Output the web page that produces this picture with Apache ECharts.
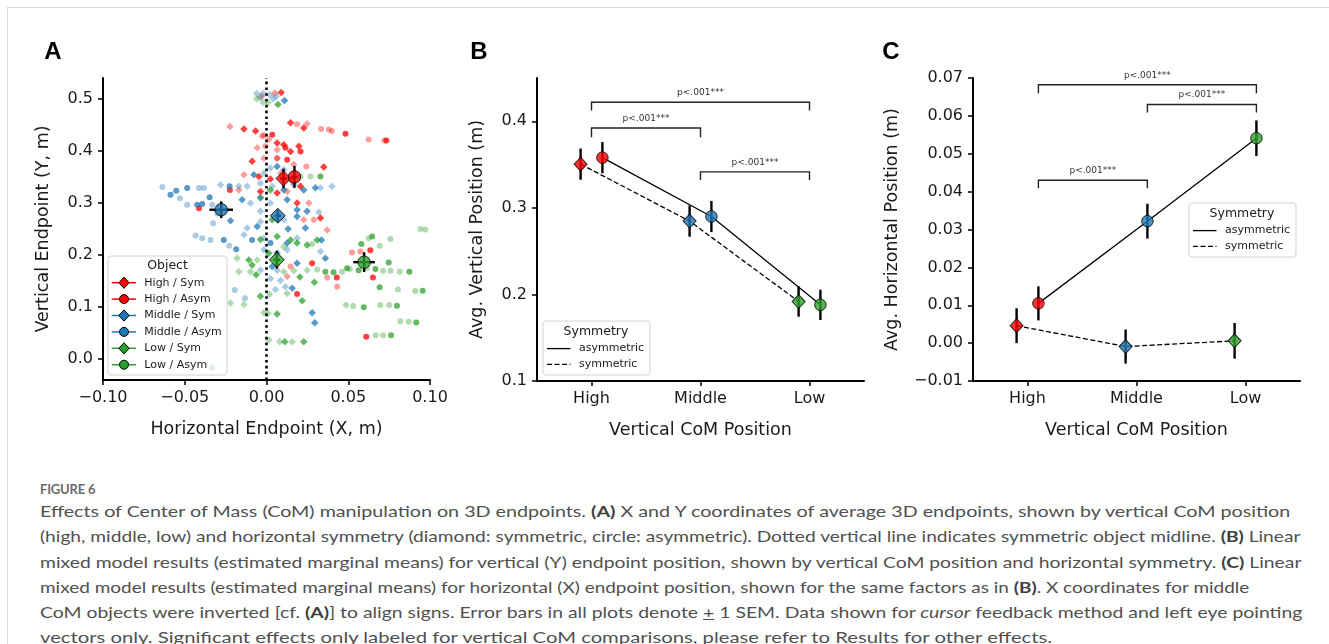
<!DOCTYPE html>
<html>
<head>
<meta charset="utf-8">
<script src="https://cdn.jsdelivr.net/npm/echarts@6/dist/echarts.min.js"></script>
<style>
  body { margin: 0; background: #fff; }
  #frame { position: absolute; left: 7px; top: 7px; right: 0; bottom: 0; border-left: 1px solid #d8d8d8; border-top: 1px solid #d8d8d8; }
  #chart { position: absolute; left: 0; top: 0; width: 1329px; height: 460px; }
  #caption { position: absolute; left: 40px; top: 0; font-family: Lato, 'Noto Sans', sans-serif; color: #505050; }
  #caption .fig { position: absolute; top: 481px; font-size: 13px; font-weight: 700; color: #6a6a6a; white-space: nowrap; letter-spacing: -0.2px; }
  #caption .ln { position: absolute; font-size: 16px; line-height: 20px; white-space: nowrap; transform-origin: 0 50%; }
  #caption b { color: #404040; }
</style>
</head>
<body>
<div id="frame"></div>
<div id="chart"></div>
<div id="caption">
  <div class="fig">FIGURE 6</div>
  <div class="ln" data-w="1250">Effects of Center of Mass (CoM) manipulation on 3D endpoints. <b>(A)</b> X and Y coordinates of average 3D endpoints, shown by vertical CoM position</div>
  <div class="ln" data-w="1261">(high, middle, low) and horizontal symmetry (diamond: symmetric, circle: asymmetric). Dotted vertical line indicates symmetric object midline. <b>(B)</b> Linear</div>
  <div class="ln" data-w="1261">mixed model results (estimated marginal means) for vertical (Y) endpoint position, shown by vertical CoM position and horizontal symmetry. <b>(C)</b> Linear</div>
  <div class="ln" data-w="1209">mixed model results (estimated marginal means) for horizontal (X) endpoint position, shown for the same factors as in <b>(B)</b>. X coordinates for middle</div>
  <div class="ln" data-w="1262">CoM objects were inverted [cf. <b>(A)</b>] to align signs. Error bars in all plots denote <span style="text-decoration:underline">+</span> 1 SEM. Data shown for <i>cursor</i> feedback method and left eye pointing</div>
  <div class="ln" data-w="1012">vectors only. Significant effects only labeled for vertical CoM comparisons, please refer to Results for other effects.</div>
</div>
<script>
// ---------- data ----------
const categories = ['High', 'Middle', 'Low'];
const groupNames = ['High / Sym', 'High / Asym', 'Middle / Sym', 'Middle / Asym', 'Low / Sym', 'Low / Asym'];

// panel A: single endpoints [x, y] (two shades per object)
const highSymDark = [[-0.0138,0.442],[-0.0067,0.438],[0.0065,0.415],[0.0106,0.412],[0.0147,0.454],[0.0228,0.444],[0.0147,0.399],[0.0198,0.409],[-0.0088,0.380],[0.035,0.369],[-0.0047,0.351],[0.0065,0.319],[0.0187,0.30],[0.033,0.271],[0.0024,0.346],[-0.0037,0.322],[0.0208,0.332],[0.009,0.512]];
const highSymLight = [[-0.0224,0.447],[-0.0026,0.428],[0.0014,0.422],[0.0248,0.452],[-0.0057,0.406],[0.0065,0.402],[0.0065,0.386],[-0.0016,0.386],[0.0167,0.374],[-0.0138,0.354],[0.0086,0.357],[0.0157,0.341],[0.0126,0.322],[0.0259,0.30],[0.0228,0.268],[0.0371,0.248],[-0.0169,0.325],[0.0126,0.159],[0.0065,0.181],[0.005,0.511],[-0.003,0.505]];
const highAsymDark = [[0.0035,0.431],[0.0116,0.406],[0.0208,0.399],[0.0126,0.383],[0.0483,0.433],[0.0733,0.42],[-0.0413,0.290],[0.0635,0.209],[0.0651,0.157],[0.043,0.157],[0.0279,0.184],[0.0187,0.125],[0.061,0.043],[-0.0224,0.325]];
const highAsymLight = [[0.0187,0.451],[0.0334,0.442],[0.0381,0.441],[0.040,0.438],[0.0625,0.422],[0.0721,0.420],[-0.0006,0.409],[0.0065,0.386],[0.0244,0.370],[0.029,0.268],[0.0523,0.205],[0.0574,0.207],[0.0371,0.157],[0.0432,0.139],[0.0147,0.178],[-0.0016,0.43]];
const midSymDark = [[-0.0149,0.306],[-0.0077,0.354],[0.0065,0.370],[0.0106,0.325],[0.0228,0.325],[0.0299,0.329],[-0.0037,0.31],[0.0126,0.306],[0.0187,0.287],[0.0248,0.284],[0.0187,0.274],[-0.0057,0.255],[0.0132,0.250],[0.0238,0.252],[0.0126,0.223],[0.0336,0.229],[0.0065,0.2035],[0.0187,0.184],[0.036,0.194],[0.0035,0.178],[0.0157,0.136],[0.0279,0.089],[0.0295,0.070],[-0.022,0.266],[0.011,0.497]];
const midSymLight = [[0.0024,0.367],[0.0106,0.364],[-0.0016,0.357],[0.0035,0.332],[0.0167,0.335],[0.033,0.329],[0.040,0.332],[0.0024,0.30],[0.032,0.282],[-0.0037,0.284],[-0.0037,0.264],[0.0106,0.268],[-0.0118,0.252],[-0.0138,0.239],[-0.0016,0.232],[0.0187,0.232],[0.033,0.2067],[-0.0016,0.21],[0.0126,0.21],[-0.0037,0.171],[0.0065,0.171],[0.0024,0.155],[0.0086,0.151],[0.0116,0.139],[0.0055,0.134],[-0.0281,0.335],[-0.0118,0.332],[-0.0098,0.2997],[-0.0169,0.332],[-0.006,0.51],[-0.002,0.51],[0.002,0.508],[0.006,0.505],[-0.004,0.502],[0.004,0.50]];
const midAsymDark = [[-0.0587,0.316],[-0.0552,0.3235],[-0.0485,0.3286],[-0.0348,0.311],[-0.0424,0.2965],[-0.0393,0.298],[-0.0226,0.332],[-0.0261,0.229],[-0.0185,0.211],[-0.0332,-0.016],[-0.0088,0.229],[0.0024,0.223]];
const midAsymLight = [[-0.0637,0.3306],[-0.053,0.309],[-0.0413,0.3286],[-0.0383,0.3286],[-0.0485,0.2965],[-0.0332,0.2965],[-0.0326,0.261],[-0.0301,0.280],[-0.0434,0.2375],[-0.0393,0.232],[-0.0342,0.229],[-0.0228,0.2176],[-0.0194,0.133],[-0.0132,0.117],[-0.0037,0.338]];
const lowSymDark = [[0.0024,0.325],[0.0035,0.268],[-0.0037,0.230],[0.0065,0.2355],[0.0147,0.229],[0.0187,0.223],[0.0248,0.2195],[0.031,0.229],[0.0014,0.2035],[-0.0108,0.1906],[-0.0088,0.181],[-0.0063,0.162],[0.0204,0.158],[0.0293,0.1476],[-0.0037,0.121],[0.0218,0.112],[0.0065,0.0867],[0.0112,0.0334],[0.0228,0.0334],[0.007,0.489]];
const lowSymLight = [[-0.0037,0.310],[0.0106,0.216],[-0.018,0.194],[-0.0057,0.1906],[-0.0169,0.168],[-0.0098,0.168],[0.0106,0.168],[0.0167,0.170],[0.0248,0.171],[0.0018,0.1245],[0.0126,0.126],[-0.022,0.108],[-0.0138,0.105],[-0.0016,0.089],[0.001,0.088],[0.0014,0.0366],[0.0081,0.0334],[0.0157,0.0334],[-0.006,0.50],[-0.002,0.493],[0.001,0.493]];
const lowAsymDark = [[0.033,0.351],[0.036,0.168],[0.041,0.167],[0.0493,0.1746],[0.0564,0.171],[0.0666,0.173],[0.0874,0.168],[0.058,0.221],[0.0646,0.2356],[0.0747,0.1855],[0.0692,0.138],[0.0955,0.1316],[0.0595,0.0995],[0.0798,0.1027],[0.0916,0.0706],[0.0762,0.046]];
const lowAsymLight = [[0.0269,0.351],[0.0208,0.351],[0.031,0.172],[0.0462,0.168],[0.0509,0.173],[0.0615,0.175],[0.0713,0.170],[0.0758,0.170],[0.0815,0.168],[0.0279,0.221],[0.0625,0.2323],[0.0692,0.2176],[0.0758,0.231],[0.0941,0.250],[0.0971,0.249],[0.0804,0.134],[0.091,0.131],[0.0487,0.104],[0.053,0.102],[0.0696,0.104],[0.0751,0.104],[0.0819,0.073],[0.087,0.072],[0.0668,0.046],[0.0713,0.046]];

// panel A: object means and SEM
const meanX = [0.0104, 0.0171, 0.0069, -0.0277, 0.0063, 0.0597];
const meanY = [0.347, 0.350, 0.2755, 0.287, 0.1908, 0.1863];
const semX = [0.002, 0.002, 0.002, 0.0072, 0.002, 0.0066];
const semY = [0.019, 0.021, 0.012, 0.016, 0.017, 0.019];
const aXTicks = [-0.1, -0.05, 0, 0.05, 0.1];
const aYTicks = [0, 0.1, 0.2, 0.3, 0.4, 0.5];

// panel B: vertical position (m)
const vertSym = [0.3505, 0.2847, 0.1918];
const vertSymSem = [0.018, 0.018, 0.0175];
const vertAsym = [0.358, 0.290, 0.188];
const vertAsymSem = [0.018, 0.018, 0.0175];
const bYTicks = [0.1, 0.2, 0.3, 0.4];
// brackets: [from, to, top, leg end]
const bracketsB = [[0, 2, 0.422, 0.4124], [0, 1, 0.3923, 0.3815], [1, 2, 0.3416, 0.3323]];

// panel C: horizontal position (m)
const horzSym = [0.0046, -0.0009, 0.0006];
const horzSymSem = [0.0046, 0.0045, 0.0047];
const horzAsym = [0.0105, 0.0322, 0.0541];
const horzAsymSem = [0.0045, 0.0046, 0.0047];
const cYTicks = [-0.01, 0, 0.01, 0.02, 0.03, 0.04, 0.05, 0.06, 0.07];
const bracketsC = [[0.1, 2.1, 0.0682, 0.0660], [1.1, 2.1, 0.0630, 0.0609], [0.1, 1.1, 0.0430, 0.0409]];
const bracketLabel = 'p<.001***';

// ---------- styling ----------
const RED = '#ff0000', BLUE = '#1f77b4', GREEN = '#2ca02c';
const groupColors = [RED, RED, BLUE, BLUE, GREEN, GREEN];
const groupSymbols = ['diamond', 'circle', 'diamond', 'circle', 'diamond', 'circle'];
const DODGE = 0.1;
const FONT = 'DejaVu Sans';
const TXT = '#1a1a1a';

const fmt = d => v => (v < -1e-9 ? '\u2212' : '') + Math.abs(v).toFixed(d);

function valueAxis(idx, min, max, ticks, digits, name, gap, margin) {
  return {
    type: 'value', gridIndex: idx, min: min, max: max,
    name: name, nameLocation: 'middle', nameGap: gap,
    nameTextStyle: { color: TXT, fontSize: 17.5, fontFamily: FONT },
    axisLine: { show: true, onZero: false, lineStyle: { color: '#000', width: 2 } },
    axisTick: { show: true, length: 5, customValues: ticks, lineStyle: { color: '#000', width: 1.5 } },
    axisLabel: { color: TXT, fontSize: 16, fontFamily: FONT, margin: margin, customValues: ticks, formatter: fmt(digits) },
    splitLine: { show: false }
  };
}
function catAxis(idx) {
  const a = valueAxis(idx, -0.5, 2.5, [0, 1, 2], 0, 'Vertical CoM Position', 40, 10);
  a.axisLabel.formatter = v => categories[Math.round(v)];
  return a;
}

function errorBar(params, api) {
  const x = api.value(0), y = api.value(1), ex = api.value(2), ey = api.value(3);
  const st = { stroke: '#000', lineWidth: 2.4 };
  const t = api.coord([x, y + ey]), b = api.coord([x, y - ey]);
  const kids = [{ type: 'line', shape: { x1: t[0], y1: t[1], x2: b[0], y2: b[1] }, style: st }];
  if (ex > 0) {
    const l = api.coord([x - ex, y]), r = api.coord([x + ex, y]);
    kids.push({ type: 'line', shape: { x1: l[0], y1: l[1], x2: r[0], y2: r[1] }, style: st });
  }
  return { type: 'group', children: kids };
}
function bracket(params, api) {
  const x1 = api.value(0), x2 = api.value(1), top = api.value(2), leg = api.value(3);
  const a = api.coord([x1, leg]), b = api.coord([x1, top]), c = api.coord([x2, top]), d = api.coord([x2, leg]);
  return { type: 'group', children: [
    { type: 'polyline', shape: { points: [a, b, c, d] }, style: { stroke: '#222', lineWidth: 1.4, fill: null } },
    { type: 'text', style: { text: bracketLabel, x: (b[0] + c[0]) / 2, y: b[1] - 5, align: 'center', verticalAlign: 'bottom', font: '9px "DejaVu Sans"', fill: '#333' } }
  ] };
}

const series = [];
// panel A scatter clouds
const clouds = [[highSymDark, highSymLight], [highAsymDark, highAsymLight], [midSymDark, midSymLight],
                [midAsymDark, midAsymLight], [lowSymDark, lowSymLight], [lowAsymDark, lowAsymLight]];
clouds.forEach((pair, g) => {
  pair.forEach((pts, k) => {
    series.push({
      type: 'scatter', xAxisIndex: 0, yAxisIndex: 0, data: pts, z: 1,
      symbol: groupSymbols[g], symbolSize: groupSymbols[g] === 'diamond' ? 7.5 : 6,
      itemStyle: { color: groupColors[g], opacity: k === 0 ? 0.75 : 0.38 },
      silent: true
    });
  });
});
// midline
series.push({
  type: 'line', xAxisIndex: 0, yAxisIndex: 0, data: [], z: 2,
  markLine: { silent: true, symbol: 'none', label: { show: false },
    lineStyle: { color: '#000', width: 2.6, type: [2.6, 3.2] }, data: [{ xAxis: 0 }] }
});
series.push({
  type: 'custom', xAxisIndex: 0, yAxisIndex: 0, z: 3, renderItem: errorBar,
  data: meanX.map((x, i) => [x, meanY[i], semX[i], semY[i]])
});
meanX.forEach((x, i) => {
  series.push({
    type: 'scatter', xAxisIndex: 0, yAxisIndex: 0, z: 4, data: [[x, meanY[i]]],
    symbol: groupSymbols[i], symbolSize: groupSymbols[i] === 'diamond' ? [15, 15] : 12.5,
    itemStyle: { color: groupColors[i], borderColor: '#000', borderWidth: 1 }
  });
});

// panels B and C
function meanPanel(ax, sym, symSem, asym, asymSem, brackets) {
  series.push({ type: 'line', xAxisIndex: ax, yAxisIndex: ax, z: 1, showSymbol: false, symbol: 'none',
    data: asym.map((v, i) => [i + DODGE, v]), lineStyle: { color: '#000', width: 1.3 } });
  series.push({ type: 'line', xAxisIndex: ax, yAxisIndex: ax, z: 1, showSymbol: false, symbol: 'none',
    data: sym.map((v, i) => [i - DODGE, v]), lineStyle: { color: '#000', width: 1.3, type: [5, 2.5] } });
  series.push({ type: 'custom', xAxisIndex: ax, yAxisIndex: ax, z: 2, renderItem: errorBar,
    data: sym.map((v, i) => [i - DODGE, v, 0, symSem[i]]).concat(asym.map((v, i) => [i + DODGE, v, 0, asymSem[i]])) });
  categories.forEach((c, i) => {
    series.push({ type: 'scatter', xAxisIndex: ax, yAxisIndex: ax, z: 3, data: [[i - DODGE, sym[i]]],
      symbol: 'diamond', symbolSize: [13, 14], itemStyle: { color: groupColors[i * 2], borderColor: '#000', borderWidth: 1 } });
    series.push({ type: 'scatter', xAxisIndex: ax, yAxisIndex: ax, z: 3, data: [[i + DODGE, asym[i]]],
      symbol: 'circle', symbolSize: 11.5, itemStyle: { color: groupColors[i * 2 + 1], borderColor: '#000', borderWidth: 1 } });
  });
  series.push({ type: 'custom', xAxisIndex: ax, yAxisIndex: ax, z: 2, renderItem: bracket, data: brackets, clip: false });
}
meanPanel(1, vertSym, vertSymSem, vertAsym, vertAsymSem, bracketsB);
meanPanel(2, horzSym, horzSymSem, horzAsym, horzAsymSem, bracketsC);

// ---------- legends and panel letters ----------
function box(x, y, w, h) {
  return { type: 'rect', z: 20, shape: { x: x, y: y, width: w, height: h, r: 3 },
    style: { fill: 'rgba(255,255,255,0.82)', stroke: '#d2d2d2', lineWidth: 1 } };
}
function label(text, x, y, size, align) {
  return { type: 'text', z: 21, style: { text: text, x: x, y: y, align: align || 'left', verticalAlign: 'middle',
    font: size + 'px "DejaVu Sans"', fill: TXT } };
}
const graphics = [];
// legend A
graphics.push(box(108, 256, 119, 119), label('Object', 167.5, 266, 12.5, 'center'));
groupNames.forEach((n, i) => {
  const y = 282.7 + i * 16.4;
  graphics.push({ type: 'line', z: 21, shape: { x1: 111.7, y1: y, x2: 136, y2: y }, style: { stroke: groupColors[i], lineWidth: 1.5 } });
  if (groupSymbols[i] === 'diamond') {
    graphics.push({ type: 'polygon', z: 22, shape: { points: [[124, y - 5.6], [129.2, y], [124, y + 5.6], [118.8, y]] },
      style: { fill: groupColors[i], stroke: '#000', lineWidth: 1 } });
  } else {
    graphics.push({ type: 'circle', z: 22, shape: { cx: 124, cy: y, r: 4.5 }, style: { fill: groupColors[i], stroke: '#000', lineWidth: 1 } });
  }
  graphics.push(label(n, 144.3, y, 11));
});
// symmetry legends (B, C)
function symLegend(x, y) {
  graphics.push(box(x, y, 107, 54), label('Symmetry', x + 53, y + 11, 12.5, 'center'));
  graphics.push({ type: 'line', z: 21, shape: { x1: x + 4, y1: y + 27.6, x2: x + 27.5, y2: y + 27.6 }, style: { stroke: '#000', lineWidth: 1.3 } });
  graphics.push({ type: 'line', z: 21, shape: { x1: x + 4, y1: y + 43.3, x2: x + 27.5, y2: y + 43.3 }, style: { stroke: '#000', lineWidth: 1.3, lineDash: [5, 2.5] } });
  graphics.push(label('asymmetric', x + 36, y + 27.6, 11), label('symmetric', x + 36, y + 43.3, 11));
}
symLegend(543, 321);
symLegend(1189, 203);
[['A', 53, 52], ['B', 479, 52], ['C', 891, 52]].forEach(p => {
  graphics.push({ type: 'text', z: 21, style: { text: p[0], x: p[1], y: p[2], align: 'center', verticalAlign: 'middle',
    font: 'bold 24px "Liberation Sans"', fill: '#000' } });
});

const chart = echarts.init(document.getElementById('chart'), null, { renderer: 'canvas' });
chart.setOption({
  animation: false,
  backgroundColor: 'transparent',
  grid: [
    { left: 103, top: 78, width: 327, height: 302 },
    { left: 537, top: 78, width: 327, height: 303 },
    { left: 973, top: 78, width: 327, height: 303 }
  ],
  xAxis: [
    valueAxis(0, -0.1, 0.1, aXTicks, 2, 'Horizontal Endpoint (X, m)', 40, 10),
    catAxis(1),
    catAxis(2)
  ],
  yAxis: [
    valueAxis(0, -0.04, 0.54, aYTicks, 1, 'Vertical Endpoint (Y, m)', 51, 10),
    valueAxis(1, 0.1, 0.45, bYTicks, 1, 'Avg. Vertical Position (m)', 51, 10),
    valueAxis(2, -0.01, 0.07, cYTicks, 2, 'Avg. Horizontal Position (m)', 72, 10)
  ],
  series: series,
  graphic: graphics
});

// caption lines: fit each line to the printed width
const lineCenters = [511, 536.3, 561.6, 586.9, 612.2, 637.4];
document.querySelectorAll('#caption .ln').forEach((el, i) => {
  el.style.top = (lineCenters[i] - 10) + 'px';
  const w = el.scrollWidth;
  el.style.transform = 'scaleX(' + (Number(el.dataset.w) / w) + ')';
});
</script>
</body>
</html>
